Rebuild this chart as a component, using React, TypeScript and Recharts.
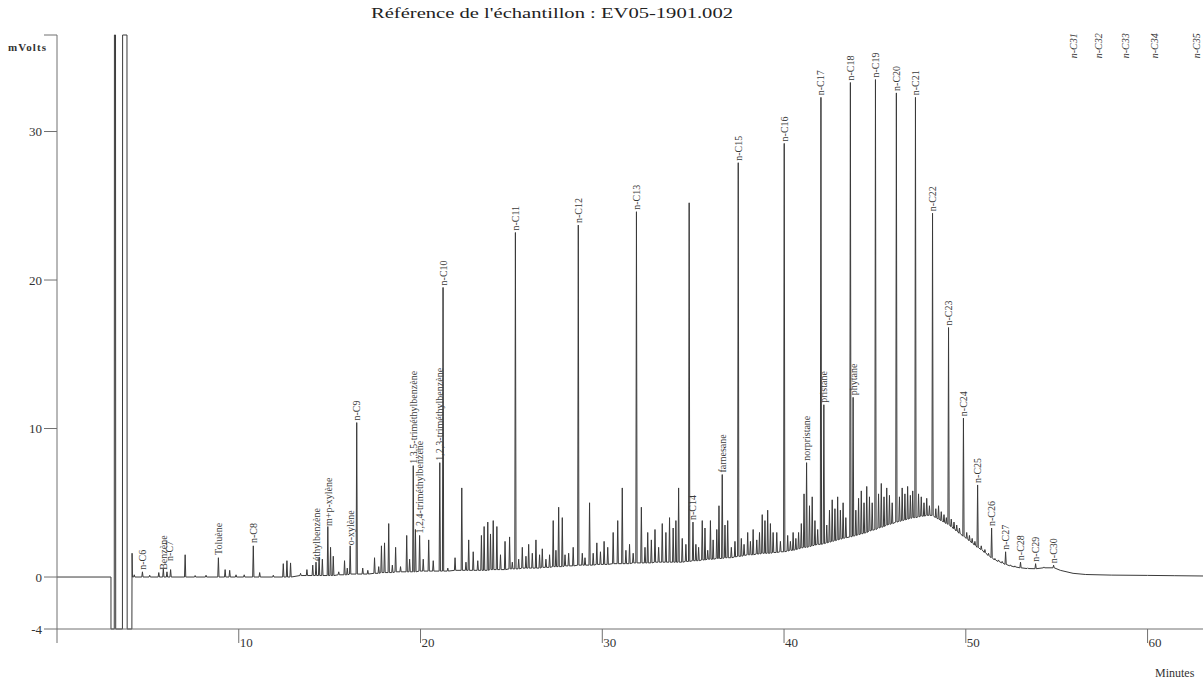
import React from 'react'
import { ComposedChart, Line, Scatter, XAxis, YAxis } from 'recharts'

const W = 1203
const H = 682
const FONT = '"Liberation Serif", "DejaVu Serif", serif'
const INK = '#3a3a3a'
const AXIS = '#707070'

// solvent front, drawn vertex by vertex: [minutes, mV] (off-scale parts sit on the frame)
const solventTrace: [number, number][] = [
  [0, 0], [2.97, 0], [2.97, -3.5], [3.15, -3.5], [3.16, 36.5], [3.22, 36.5],
  [3.23, -3.5], [3.6, -3.5], [3.61, 36.5], [3.85, 36.5], [3.86, -3.5],
  [4.12, -3.5], [4.13, 1.6], [4.15, 0], [4.2, 0],
]

// peaks: [retention time (min), baseline under the peak (mV), apex (mV)]
const peaks: [number, number, number][] = [
  [4.25, 0, 0.15], [4.7, 0, 0.35], [5.1, 0, 0.12], [5.6, 0, 0.3], [5.85, 0, 0.55],
  [6.05, 0, 0.35], [6.25, 0, 0.5], [7.05, 0, 1.5], [7.6, 0, 0.1], [8.2, 0, 0.12],
  [8.88, 0, 1.3], [9.25, 0, 0.5], [9.5, 0, 0.45], [9.85, 0, 0.15], [10.3, 0, 0.15],
  [10.8, 0, 2.1], [11.15, 0, 0.3], [11.9, 0, 0.12], [12.45, 0, 0.9], [12.65, 0, 1.1],
  [12.85, 0, 0.95], [13.4, 0.1, 0.25], [13.75, 0.1, 0.5], [14.07, 0.1, 0.8], [14.25, 0.1, 1.0],
  [14.42, 0.1, 1.35], [14.6, 0.1, 1.2], [14.9, 0.1, 3.4], [15.05, 0.1, 2.0], [15.2, 0.1, 1.4],
  [15.5, 0.15, 0.35], [15.82, 0.15, 1.1], [15.97, 0.15, 0.6], [16.13, 0.2, 2.1], [16.49, 0.2, 10.4],
  [16.82, 0.2, 0.6], [17.1, 0.2, 0.45], [17.47, 0.25, 1.3], [17.7, 0.25, 0.7], [17.85, 0.3, 2.1],
  [18.02, 0.3, 2.3], [18.25, 0.3, 3.6], [18.45, 0.3, 0.8], [18.63, 0.35, 2.0], [18.9, 0.35, 0.7],
  [19.24, 0.35, 2.8], [19.4, 0.35, 1.2], [19.6, 0.35, 7.5], [19.72, 0.35, 3.2], [19.95, 0.4, 2.8],
  [20.15, 0.4, 1.2], [20.45, 0.4, 2.5], [20.7, 0.4, 1.1], [21.06, 0.4, 7.7], [21.24, 0.4, 19.5],
  [21.5, 0.4, 0.6], [21.9, 0.45, 1.3], [22.27, 0.45, 6.0], [22.5, 0.45, 1.0], [22.65, 0.45, 2.5],
  [22.9, 0.45, 1.7], [23.15, 0.45, 1.1], [23.35, 0.45, 2.8], [23.5, 0.45, 3.4], [23.7, 0.45, 3.7],
  [23.85, 0.5, 2.9], [24.0, 0.5, 3.8], [24.2, 0.5, 3.4], [24.4, 0.5, 1.5], [24.65, 0.5, 2.4],
  [24.9, 0.55, 2.7], [25.05, 0.55, 1.0], [25.22, 0.55, 23.2], [25.4, 0.55, 1.2], [25.6, 0.6, 2.0],
  [25.8, 0.6, 1.4], [25.95, 0.6, 2.2], [26.15, 0.6, 1.6], [26.35, 0.6, 2.5], [26.55, 0.6, 1.5],
  [26.7, 0.65, 1.9], [26.9, 0.65, 1.2], [27.1, 0.65, 1.5], [27.3, 0.7, 3.8], [27.45, 0.7, 1.8],
  [27.6, 0.7, 4.7], [27.8, 0.7, 4.0], [27.95, 0.75, 1.5], [28.15, 0.75, 1.6], [28.4, 0.75, 2.0],
  [28.68, 0.8, 23.7], [28.9, 0.8, 1.6], [29.05, 0.8, 1.3], [29.3, 0.8, 5.0], [29.5, 0.8, 1.6],
  [29.7, 0.85, 2.3], [29.9, 0.85, 1.7], [30.1, 0.85, 2.4], [30.3, 0.85, 2.0], [30.6, 0.9, 3.0],
  [30.85, 0.9, 3.8], [31.1, 0.9, 6.0], [31.3, 0.9, 1.8], [31.5, 0.9, 2.2], [31.7, 0.95, 1.6],
  [31.88, 0.95, 24.6], [32.15, 0.95, 4.7], [32.35, 0.95, 2.0], [32.5, 0.95, 3.0], [32.7, 0.95, 2.5],
  [32.9, 1.0, 3.2], [33.1, 1.0, 2.0], [33.3, 1.0, 3.6], [33.5, 1.0, 3.0], [33.7, 1.0, 4.0],
  [33.9, 1.0, 3.3], [34.05, 1.0, 3.8], [34.2, 1.0, 6.0], [34.4, 1.0, 2.6], [34.6, 1.05, 2.2],
  [34.78, 1.05, 25.2], [34.99, 1.1, 3.7], [35.15, 1.1, 2.2], [35.3, 1.1, 2.0], [35.5, 1.15, 3.8],
  [35.65, 1.15, 3.3], [35.8, 1.2, 1.8], [35.95, 1.2, 3.8], [36.1, 1.2, 2.5], [36.3, 1.25, 3.2],
  [36.42, 1.25, 4.8], [36.6, 1.25, 6.9], [36.75, 1.3, 3.5], [36.9, 1.3, 3.8], [37.1, 1.3, 2.0],
  [37.3, 1.35, 2.4], [37.48, 1.4, 27.9], [37.65, 1.4, 2.6], [37.8, 1.45, 2.2], [38.0, 1.5, 3.0],
  [38.15, 1.5, 2.4], [38.3, 1.5, 3.2], [38.5, 1.55, 2.5], [38.65, 1.55, 3.0], [38.8, 1.6, 4.2],
  [38.95, 1.6, 3.8], [39.1, 1.6, 4.5], [39.25, 1.6, 3.6], [39.4, 1.65, 3.0], [39.6, 1.65, 3.0],
  [39.8, 1.7, 2.4], [40.01, 1.7, 29.2], [40.2, 1.75, 2.8], [40.35, 1.8, 2.4], [40.5, 1.8, 3.0],
  [40.65, 1.85, 2.6], [40.8, 1.9, 3.0], [40.95, 1.95, 3.6], [41.1, 2.0, 5.6], [41.24, 2.0, 7.7],
  [41.4, 2.05, 4.8], [41.55, 2.1, 5.4], [41.7, 2.15, 3.8], [41.85, 2.2, 3.2], [42.03, 2.2, 32.3],
  [42.19, 2.25, 11.6], [42.35, 2.3, 3.5], [42.5, 2.35, 4.5], [42.65, 2.4, 5.2], [42.8, 2.45, 4.6],
  [42.95, 2.5, 5.4], [43.1, 2.55, 4.5], [43.25, 2.6, 5.0], [43.4, 2.65, 4.0], [43.65, 2.7, 33.3],
  [43.8, 2.75, 12.1], [43.95, 2.8, 4.5], [44.1, 2.85, 5.3], [44.25, 2.9, 5.8], [44.4, 2.95, 5.0],
  [44.55, 3.0, 6.1], [44.7, 3.1, 5.4], [44.85, 3.15, 5.0], [45.03, 3.2, 33.5], [45.2, 3.3, 5.6],
  [45.35, 3.35, 6.3], [45.5, 3.4, 5.4], [45.65, 3.5, 6.0], [45.8, 3.55, 5.5], [45.95, 3.6, 5.0],
  [46.18, 3.7, 32.6], [46.35, 3.75, 5.4], [46.5, 3.8, 6.0], [46.65, 3.85, 5.6], [46.8, 3.9, 6.1],
  [46.95, 3.95, 5.5], [47.08, 4.0, 5.8], [47.23, 4.0, 32.3], [47.4, 4.05, 5.6], [47.55, 4.1, 5.4],
  [47.7, 4.1, 5.0], [47.85, 4.15, 5.3], [48.0, 4.15, 4.8], [48.17, 4.15, 24.5], [48.35, 4.0, 4.6],
  [48.5, 3.9, 4.8], [48.65, 3.8, 4.4], [48.8, 3.7, 4.2], [48.93, 3.6, 4.0], [49.05, 3.55, 16.8],
  [49.2, 3.4, 3.9], [49.35, 3.25, 3.7], [49.5, 3.1, 3.5], [49.65, 2.95, 3.3], [49.87, 2.75, 10.7],
  [50.05, 2.6, 3.0], [50.2, 2.45, 2.8], [50.35, 2.3, 2.6], [50.5, 2.15, 2.4], [50.65, 2.0, 6.2],
  [50.85, 1.85, 2.1], [51.05, 1.65, 1.85], [51.25, 1.45, 1.6], [51.42, 1.3, 3.3], [51.6, 1.15, 1.25],
  [51.8, 1.05, 1.15], [52.0, 0.95, 1.05], [52.19, 0.85, 1.7], [52.45, 0.75, 0.82], [52.7, 0.68, 0.75],
  [53.01, 0.62, 1.0], [53.4, 0.57, 0.62], [53.84, 0.56, 0.9], [54.3, 0.62, 0.68], [54.83, 0.62, 0.8],
]

// late baseline after the last eluted peak: [minutes, mV]
const tailTrace: [number, number][] = [
  [55.2, 0.45], [55.9, 0.25], [56.6, 0.17], [58, 0.13], [60, 0.11], [61.5, 0.09], [63.05, 0.07],
]

// annotated compounds
const labelNames = [
  'n-C6', 'Benzène', 'n-C7', 'Toluène', 'n-C8', 'éthylbenzène', 'm+p-xylène', 'o-xylène', 'n-C9',
  '1,3,5-triméthylbenzène', '1,2,4-triméthylbenzène', '1,2,3-triméthylbenzène', 'n-C10',
  'n-C11', 'n-C12', 'n-C13', 'n-C14', 'farnesane', 'n-C15', 'n-C16', 'norpristane', 'n-C17',
  'pristane', 'n-C18', 'phytane', 'n-C19', 'n-C20', 'n-C21', 'n-C22', 'n-C23', 'n-C24', 'n-C25',
  'n-C26', 'n-C27', 'n-C28', 'n-C29', 'n-C30',
]
const labelTimes = [
  4.7, 5.85, 6.2, 8.88, 10.8, 14.3, 14.92, 16.13, 16.49,
  19.6, 19.95, 21.02, 21.24,
  25.22, 28.68, 31.88, 34.99, 36.6, 37.48, 40.01, 41.24, 42.03,
  42.19, 43.65, 43.8, 45.03, 46.18, 47.23, 48.17, 49.05, 49.87, 50.65,
  51.42, 52.19, 53.01, 53.84, 54.83,
]
const labelLevels = [
  0.35, 0.35, 0.95, 1.35, 2.15, 0.95, 3.3, 2.0, 10.4,
  7.5, 2.8, 7.7, 19.5,
  23.2, 23.7, 24.6, 3.7, 6.9, 27.9, 29.2, 7.7, 32.3,
  11.6, 33.3, 12.1, 33.5, 32.6, 32.3, 24.5, 16.8, 10.7, 6.2,
  3.3, 1.7, 1.0, 0.9, 0.8,
]

// expected positions of heavier alkanes (not eluted), printed along the top
const topLabelNames = ['n-C31', 'n-C32', 'n-C33', 'n-C34', 'n-C35']
const topLabelTimes = [55.9, 57.3, 58.8, 60.4, 62.7]
const topLabelLevel = 34.8

const xTicks = [0, 10, 20, 30, 40, 50, 60]
const yTicks = [-3.5, 0, 10, 20, 30, 36.5]

const PEAK_HALF_WIDTH = 0.035

const trace = [
  ...solventTrace.map(([t, v]) => ({ t, v })),
  ...peaks.flatMap(([t, base, top]) => [
    { t: t - PEAK_HALF_WIDTH, v: base },
    { t, v: top },
    { t: t + PEAK_HALF_WIDTH, v: base },
  ]),
  ...tailTrace.map(([t, v]) => ({ t, v })),
]

const labelPoints = [
  ...labelNames.map((name, i) => ({ t: labelTimes[i], v: labelLevels[i], name, italic: false })),
  ...topLabelNames.map((name, i) => ({ t: topLabelTimes[i], v: topLabelLevel, name, italic: true })),
]

const PeakLabel = (props: any) => {
  const { cx, cy, payload } = props
  if (cx == null || cy == null) return null
  return (
    <text
      transform={`translate(${cx},${cy - 2}) rotate(-90)`}
      dominantBaseline="central"
      fontSize={10}
      fontFamily={FONT}
      fontStyle={payload.italic ? 'italic' : 'normal'}
      fill={INK}
    >
      {payload.name}
    </text>
  )
}

const XTick = ({ x, y, payload }: any) => (
  <text x={x + 1} y={y + 4} fontSize={13} fontFamily={FONT} fill="#333">
    {payload.value === 0 ? '' : payload.value}
  </text>
)

const yLabel = (v: number) => (v === -3.5 ? '-4' : v === 36.5 ? '' : String(v))

export default function App() {
  return (
    <div
      style={{
        position: 'absolute',
        left: 0,
        top: 0,
        width: W,
        height: H,
        overflow: 'hidden',
        background: '#fff',
      }}
    >
      <ComposedChart width={W} height={H} margin={{ top: 35, right: 0, bottom: 0, left: 0 }}>
        <XAxis
          type="number"
          dataKey="t"
          domain={[0, 63.05]}
          ticks={xTicks}
          interval={0}
          height={53}
          tickSize={14}
          tickMargin={0}
          tick={<XTick />}
          stroke={AXIS}
        />
        <YAxis
          type="number"
          dataKey="v"
          domain={[-3.5, 36.5]}
          ticks={yTicks}
          interval={0}
          width={57}
          tickSize={13}
          tickMargin={2}
          tickFormatter={yLabel}
          tick={{ fontSize: 13, fontFamily: FONT, fill: '#333' }}
          stroke={AXIS}
        />
        <Line
          data={trace}
          dataKey="v"
          type="linear"
          dot={false}
          stroke={INK}
          strokeWidth={1}
          isAnimationActive={false}
        />
        <Scatter data={labelPoints} dataKey="v" shape={<PeakLabel />} isAnimationActive={false} />
      </ComposedChart>
      <svg
        width={W}
        height={H}
        style={{ position: 'absolute', left: 0, top: 0, pointerEvents: 'none' }}
      >
        <text
          x={371}
          y={18}
          fontSize={15}
          fontFamily={FONT}
          fill="#222"
          textLength={362}
          lengthAdjust="spacingAndGlyphs"
        >
          Référence de l'échantillon : EV05-1901.002
        </text>
        <text x={8} y={51} fontSize={11} fontWeight="bold" fontFamily={FONT} fill="#333" textLength={38}>
          mVolts
        </text>
        <text x={1155} y={677} fontSize={12} fontFamily={FONT} fill="#333">
          Minutes
        </text>
      </svg>
    </div>
  )
}
